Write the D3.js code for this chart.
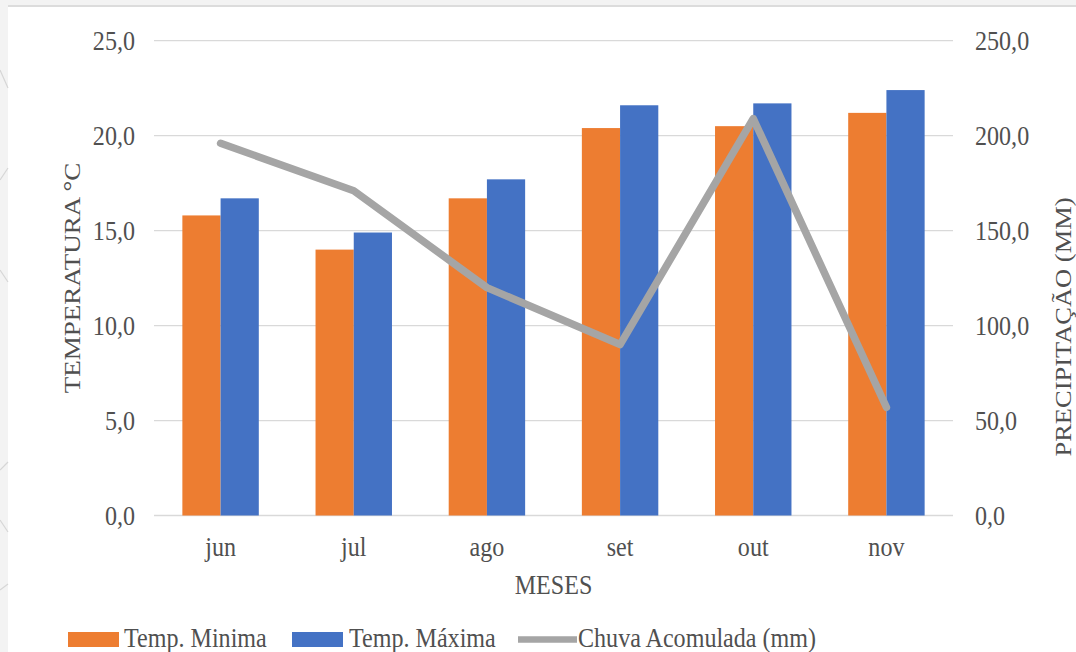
<!DOCTYPE html>
<html>
<head>
<meta charset="utf-8">
<script src="https://cdn.jsdelivr.net/npm/d3@7/dist/d3.min.js"></script>
<style>
  html, body { margin: 0; padding: 0; background: #f4f4f4; }
  svg { display: block; }
  text { font-family: "Liberation Serif", "Times New Roman", serif; fill: #505050; }
</style>
</head>
<body>
<svg id="chart" width="1076" height="652"></svg>
<script>
// ---- data ----
const months = ["jun", "jul", "ago", "set", "out", "nov"];
const tempMin = [15.8, 14.0, 16.7, 20.4, 20.5, 21.2];
const tempMax = [16.7, 14.9, 17.7, 21.6, 21.7, 22.4];
const chuva = [196, 171, 120, 90, 209, 57];
const tempTicks = [0, 5, 10, 15, 20, 25];
const precipTicks = [0, 50, 100, 150, 200, 250];
const seriesNames = ["Temp. Minima", "Temp. Máxima", "Chuva Acomulada (mm)"];
const xTitle = "MESES";
const yLeftTitle = "TEMPERATURA °C";
const yRightTitle = "PRECIPITAÇÃO (MM)";

// ---- layout ----
const W = 1076, H = 652;
const plot = { left: 154, right: 953, top: 40.7, bottom: 515.5 };
const colors = { min: "#ed7d31", max: "#4472c4", line: "#a5a5a5", grid: "#d9d9d9", text: "#505050" };
const FS = 28, SX = 0.86;

const svg = d3.select("#chart");
const fmt = d3.formatLocale({ decimal: ",", thousands: ".", grouping: [3], currency: ["", ""] }).format(".1f");

// page background (document screenshot look)
svg.append("rect").attr("x", 0).attr("y", 0).attr("width", W).attr("height", H).attr("fill", "#f3f3f3");
svg.append("line").attr("x1", 8).attr("x2", W).attr("y1", 6).attr("y2", 6).attr("stroke", "#dcdcdc").attr("stroke-width", 2);
svg.append("rect").attr("x", 8).attr("y", 7).attr("width", W - 8).attr("height", H - 7).attr("fill", "#ffffff");
// faint decorative strokes in left margin
[[0, 70, 8, 88], [0, 180, 8, 168], [0, 270, 8, 282], [0, 470, 8, 462], [0, 520, 8, 532], [0, 590, 8, 584]].forEach(s => {
  svg.append("line").attr("x1", s[0]).attr("y1", s[1]).attr("x2", s[2]).attr("y2", s[3])
    .attr("stroke", "#d6d6d6").attr("stroke-width", 1.2);
});

// ---- scales ----
const x = d3.scaleBand().domain(months).range([plot.left, plot.right]).paddingInner(0.426).paddingOuter(0.213);
const xSub = d3.scaleBand().domain(["min", "max"]).range([0, x.bandwidth()]);
const yT = d3.scaleLinear().domain([0, 25]).range([plot.bottom, plot.top]);
const yP = d3.scaleLinear().domain([0, 250]).range([plot.bottom, plot.top]);

function ctext(g, str, tx, ty, anchor) {
  return g.append("text")
    .attr("transform", `translate(${tx},${ty}) scale(${SX},1)`)
    .attr("text-anchor", anchor)
    .attr("font-size", FS)
    .text(str);
}

// gridlines
svg.append("g").selectAll("line").data(tempTicks).join("line")
  .attr("x1", plot.left).attr("x2", plot.right)
  .attr("y1", d => yT(d)).attr("y2", d => yT(d))
  .attr("stroke", colors.grid).attr("stroke-width", 1.3);

function styleTicks(g, tr) {
  g.select(".domain").remove();
  g.selectAll(".tick text")
    .attr("x", null).attr("y", null).attr("dy", null)
    .attr("transform", `${tr} scale(${SX},1)`)
    .attr("font-size", FS).attr("font-family", "Liberation Serif, serif").attr("fill", colors.text);
}

// left axis
const gL = svg.append("g").attr("transform", `translate(${plot.left},0)`)
  .call(d3.axisLeft(yT).tickValues(tempTicks).tickSize(0).tickPadding(19).tickFormat(fmt));
styleTicks(gL, "translate(-19,9)");

// right axis
const gR = svg.append("g").attr("transform", `translate(${plot.right},0)`)
  .call(d3.axisRight(yP).tickValues(precipTicks).tickSize(0).tickPadding(22).tickFormat(fmt));
styleTicks(gR, "translate(22,9)");

// bottom axis labels
const gB = svg.append("g").attr("transform", `translate(0,${plot.bottom})`)
  .call(d3.axisBottom(x).tickSize(0).tickPadding(0));
styleTicks(gB, "translate(0,40.5)");

// bars
const groups = svg.append("g").selectAll("g").data(months).join("g")
  .attr("transform", d => `translate(${x(d)},0)`);
groups.append("rect")
  .attr("x", xSub("min")).attr("width", xSub.bandwidth())
  .attr("y", (d, i) => yT(tempMin[i])).attr("height", (d, i) => plot.bottom - yT(tempMin[i]))
  .attr("fill", colors.min);
groups.append("rect")
  .attr("x", xSub("max")).attr("width", xSub.bandwidth())
  .attr("y", (d, i) => yT(tempMax[i])).attr("height", (d, i) => plot.bottom - yT(tempMax[i]))
  .attr("fill", colors.max);

// precipitation line
const line = d3.line().x((d, i) => x(months[i]) + x.bandwidth() / 2).y(d => yP(d));
svg.append("path").datum(chuva).attr("d", line)
  .attr("fill", "none").attr("stroke", colors.line).attr("stroke-width", 7.5)
  .attr("stroke-linejoin", "round").attr("stroke-linecap", "round");

// axis titles
const gt = svg.append("g");
ctext(gt, xTitle, (plot.left + plot.right) / 2, 594, "middle");
gt.append("text")
  .attr("transform", `translate(80,278) scale(${SX},1) rotate(-90)`)
  .attr("text-anchor", "middle").attr("font-size", 27).text(yLeftTitle);
gt.append("text")
  .attr("transform", `translate(1071,327) scale(${SX},1) rotate(-90)`)
  .attr("text-anchor", "middle").attr("font-size", 26.5).text(yRightTitle);

// legend
const lg = svg.append("g");
lg.append("rect").attr("x", 68).attr("y", 632).attr("width", 51).attr("height", 15).attr("fill", colors.min);
ctext(lg, seriesNames[0], 124, 647, "start");
lg.append("rect").attr("x", 292).attr("y", 632).attr("width", 51).attr("height", 15).attr("fill", colors.max);
ctext(lg, seriesNames[1], 349, 647, "start");
lg.append("line").attr("x1", 518).attr("x2", 577).attr("y1", 639.5).attr("y2", 639.5)
  .attr("stroke", colors.line).attr("stroke-width", 6.5);
ctext(lg, seriesNames[2], 578, 647, "start");
</script>
</body>
</html>
